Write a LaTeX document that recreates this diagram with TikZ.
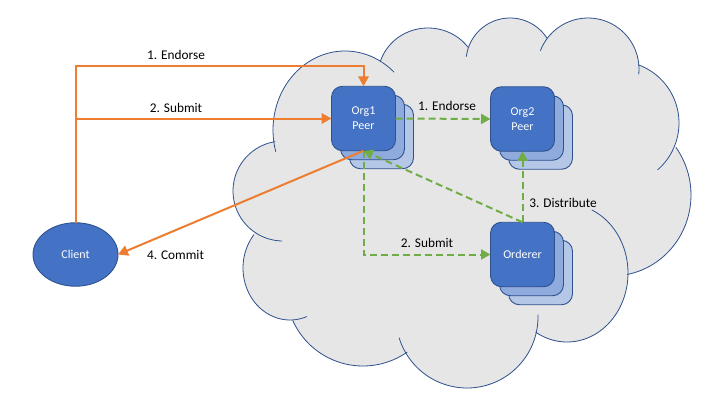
\documentclass[tikz,border=0pt]{standalone}
\usepackage{fontspec}
\setmainfont{Carlito}
\usetikzlibrary{arrows.meta,shapes.geometric}
\definecolor{cloudgray}{HTML}{E6E6E6}
\definecolor{navy}{HTML}{2F528F}
\definecolor{blueA}{HTML}{4472C4}
\definecolor{blueB}{HTML}{8FAADC}
\definecolor{blueC}{HTML}{B4C7E7}
\definecolor{orangeline}{HTML}{ED7D31}
\definecolor{greenline}{HTML}{70AD47}
\tikzset{
  base/.style={x=1pt,y=-1pt},
  frontbox/.style={draw=navy,line width=0.9pt,fill=blueA,rounded corners=11pt,minimum width=64pt,minimum height=64.5pt,outer sep=0pt,inner sep=0pt,text=white,font=\fontsize{12}{15}\selectfont,align=center},
  midbox/.style={frontbox,fill=blueB},
  backbox/.style={frontbox,fill=blueC},
  clientnode/.style={ellipse,draw=navy,line width=0.9pt,fill=blueA,minimum width=85pt,minimum height=63.5pt,outer sep=0pt,inner sep=0pt,text=white,font=\fontsize{12}{15}\selectfont},
  orangelink/.style={draw=orangeline,line width=2pt,-{Triangle[length=10pt,width=10.5pt]}},
  greenlink/.style={draw=greenline,line width=2pt,dash pattern=on 7pt off 4pt,-{Triangle[length=9.5pt,width=10pt]}},
  lbl/.style={text=black,font=\fontsize{13.3}{15}\selectfont,inner sep=0pt},
  cloudbody/.style={fill=cloudgray,draw=cloudgray,line width=0.6pt},
}
% one lobe of the cloud: centre x, centre y, radius x, radius y, first angle, last angle
\newcommand{\lobefill}[6]{\path[cloudbody] plot[domain=#5:#6,samples=40,smooth] ({#1+#3*cos(\x)},{#2+#4*sin(\x)}) -- cycle;}
\newcommand{\lobeline}[6]{\draw[navy,line width=0.8pt] plot[domain=#5:#6,samples=40,smooth] ({#1+#3*cos(\x)},{#2+#4*sin(\x)});}
\newcommand{\cloudlobes}[1]{%
  #1{283}{191}{50}{50}{261}{91}
  #1{290}{268}{47}{52}{220}{69}
  #1{363}{289}{77}{77}{156}{55}
  #1{467}{317}{71}{71}{163}{-2}
  #1{567}{273}{61}{69}{121}{-66}
  #1{612}{195}{79}{81}{79}{-36}
  #1{617}{123}{62}{62}{49}{-70}
  #1{588}{69}{51}{51}{366}{201}
  #1{510}{62}{44}{44}{327}{187}
  #1{428}{76}{50}{48}{323}{197}
  #1{345}{130}{72}{79}{164}{313}
}
\begin{document}
\begin{tikzpicture}[base]
\useasboundingbox (0,0) rectangle (720,405);
\path[cloudbody] (274,142)--(255,234)--(294,320)--(407,353)--(535,332)--(628,274)--(674,150)--(638,65)--(547,38)--(470,46)--(381,62)--cycle;
\cloudlobes{\lobefill}
\cloudlobes{\lobeline}

\node[backbox] (org1c) at (381.5,136.5) {};
\node[midbox] (org1b) at (372.5,127.5) {};
\node[frontbox] (org1) at (363.5,118.5) {Org1\\Peer};
\node[backbox] (org2c) at (540.5,137) {};
\node[midbox] (org2b) at (531.5,128) {};
\node[frontbox] (org2) at (522.5,119) {Org2\\Peer};
\node[backbox] (ordc) at (540.5,272.5) {};
\node[midbox] (ordb) at (531.5,263.5) {};
\node[frontbox] (orderer) at (522.5,254.5) {Orderer};
\node[clientnode] (client) at (75.5,254.5) {Client};

\coordinate (cornerleft) at (75.5,66);
\coordinate (cornerright) at (363.5,66);
\coordinate (branch) at (75.5,118.5);

\draw[orangelink] (client.north) -- (cornerleft) -- (cornerright) -- (org1.north);
\draw[orangelink] (branch) -- (org1.west);
\draw[orangelink] (org1.south) -- (client.east);
\draw[greenlink] (org1.east) -- (org2.west);
\draw[greenlink] (org1.south) |- (orderer.west);
\draw[greenlink] (orderer.north) -- (org2.south);
\draw[greenlink] (orderer.north) -- (org1.south);

\node[lbl] (t1) at (176,55) {1. Endorse};
\node[lbl] (t2) at (176,108) {2. Submit};
\node[lbl] (t3) at (447,105.5) {1. Endorse};
\node[lbl] (t4) at (563,202.5) {3. Distribute};
\node[lbl] (t5) at (427,242.5) {2. Submit};
\node[lbl] (t6) at (175.5,255) {4. Commit};
\end{tikzpicture}
\end{document}
